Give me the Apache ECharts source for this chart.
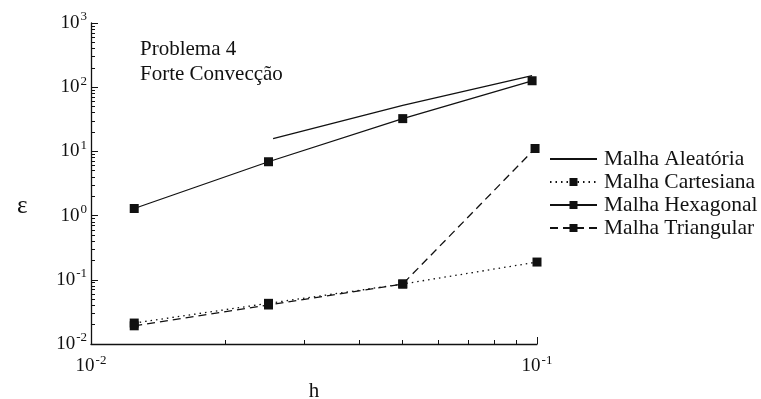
<!DOCTYPE html>
<html>
<head>
<meta charset="utf-8">
<script src="https://cdn.jsdelivr.net/npm/echarts@6/dist/echarts.min.js"></script>
<style>html,body{margin:0;padding:0;background:#fff;}#c{width:761px;height:399px;}</style>
</head>
<body>
<div id="c"></div>
<script>
// Data
var seriesNames = ['Malha Aleatória', 'Malha Cartesiana', 'Malha Hexagonal', 'Malha Triangular'];
var hAleatoria = [0.0256, 0.05, 0.0975];
var eAleatoria = [15.8, 52, 151];
var hCartesiana = [0.0125, 0.025, 0.05, 0.1];
var eCartesiana = [0.0212, 0.043, 0.086, 0.189];
var hHexagonal = [0.0125, 0.025, 0.05, 0.0975];
var eHexagonal = [1.29, 6.9, 32.4, 126];
var hTriangular = [0.0125, 0.025, 0.05, 0.099];
var eTriangular = [0.0192, 0.0405, 0.086, 11.1];
var xMajor = [0.01, 0.1];
var yMajor = [0.01, 0.1, 1, 10, 100, 1000];
var xMinor = [0.02, 0.03, 0.04, 0.05, 0.06, 0.07, 0.08, 0.09];
var yMinor = [];
[0.01, 0.1, 1, 10, 100].forEach(function (d) { for (var k = 2; k <= 9; k++) yMinor.push(+(d * k).toPrecision(3)); });

function pairs(xs, ys) { return xs.map(function (x, i) { return [x, ys[i]]; }); }
var FONT = 'Liberation Serif';
var INK = '#111';
function sup(v) {
  var e = Math.round(Math.log10(v));
  return '{b|10}{s|' + e + '}';
}
var richLab = {
  b: { fontFamily: FONT, fontSize: 19, color: INK },
  s: { fontFamily: FONT, fontSize: 13, color: INK, padding: [0, 0, 12, 1] }
};

var chart = echarts.init(document.getElementById('c'));
var lineBase = { color: INK, width: 1.3 };
chart.setOption({
  animation: false,
  backgroundColor: '#fff',
  title: [{
    text: 'Problema 4\nForte Convecção',
    left: 135, top: 32,
    textStyle: { fontFamily: FONT, fontSize: 21, fontWeight: 'normal', color: INK, lineHeight: 25 }
  }, {
    text: 'ε', left: 12, top: 189,
    textStyle: { fontFamily: FONT, fontSize: 25, fontWeight: 'normal', color: INK }
  }],
  legend: {
    orient: 'vertical', left: 544, top: 143,
    itemWidth: 47, itemHeight: 10, itemGap: 1,
    data: [
      { name: seriesNames[0], itemStyle: { color: 'rgba(0,0,0,0)', borderWidth: 0 } },
      seriesNames[1], seriesNames[2], seriesNames[3]
    ],
    textStyle: { fontFamily: FONT, fontSize: 21.5, color: INK, lineHeight: 22, padding: [0, 0, 0, 2] }
  },
  grid: { left: 91, right: 224, top: 23, bottom: 55, outerBoundsMode: 'none', containLabel: false },
  xAxis: [{
    type: 'log', logBase: 10, min: 0.01, max: 0.1,
    name: 'h', nameLocation: 'middle', nameGap: 34,
    nameTextStyle: { fontFamily: FONT, fontSize: 21, color: INK },
    axisLine: { lineStyle: { color: INK, width: 1.3 } },
    axisTick: { show: true, inside: true, length: 7, customValues: xMajor, lineStyle: { color: INK } },
    axisLabel: { customValues: xMajor, formatter: sup, rich: richLab, margin: 10 },
    splitLine: { show: false }
  }, {
    type: 'log', logBase: 10, min: 0.01, max: 0.1, position: 'bottom',
    axisLine: { show: false },
    axisTick: { show: true, inside: true, length: 4, customValues: xMinor, lineStyle: { color: INK } },
    axisLabel: { show: false }, splitLine: { show: false }
  }],
  yAxis: [{
    type: 'log', logBase: 10, min: 0.01, max: 1000,
    axisLine: { show: true, lineStyle: { color: INK, width: 1.3 } },
    axisTick: { show: true, inside: true, length: 7, customValues: yMajor, lineStyle: { color: INK } },
    axisLabel: { customValues: yMajor, formatter: sup, rich: richLab, margin: 4 },
    splitLine: { show: false }
  }, {
    type: 'log', logBase: 10, min: 0.01, max: 1000, position: 'left',
    axisLine: { show: false },
    axisTick: { show: true, inside: true, length: 4, customValues: yMinor, lineStyle: { color: INK } },
    axisLabel: { show: false }, splitLine: { show: false }
  }],
  series: [{
    name: seriesNames[0], type: 'line', data: pairs(hAleatoria, eAleatoria),
    symbol: 'rect', symbolSize: [6, 2], showSymbol: false, color: INK, itemStyle: { color: INK }, lineStyle: lineBase
  }, {
    name: seriesNames[1], type: 'line', data: pairs(hCartesiana, eCartesiana),
    symbol: 'rect', symbolSize: 9, color: INK, itemStyle: { color: INK },
    lineStyle: { color: INK, width: 1.3, type: [1.5, 4] }
  }, {
    name: seriesNames[2], type: 'line', data: pairs(hHexagonal, eHexagonal),
    symbol: 'rect', symbolSize: 9, color: INK, itemStyle: { color: INK }, lineStyle: lineBase
  }, {
    name: seriesNames[3], type: 'line', data: pairs(hTriangular, eTriangular),
    symbol: 'rect', symbolSize: 9, color: INK, itemStyle: { color: INK },
    lineStyle: { color: INK, width: 1.3, type: [8, 5] }
  }]
});
</script>
</body>
</html>
